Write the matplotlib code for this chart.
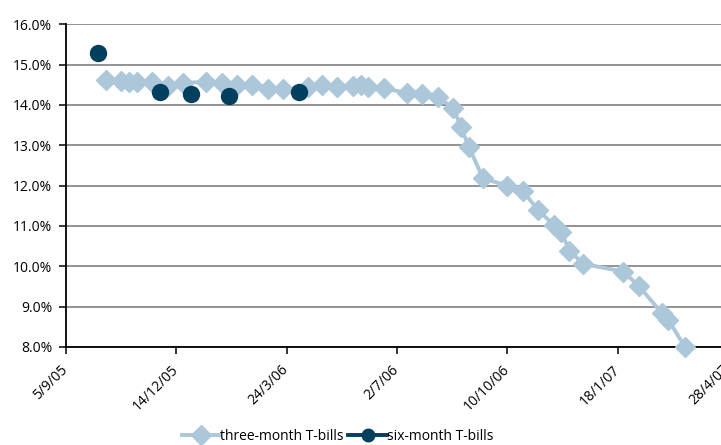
import numpy as np
import pandas as pd
import matplotlib
matplotlib.use('Agg')
from matplotlib import pyplot as plt
from matplotlib.lines import Line2D
from matplotlib.ticker import FuncFormatter
import matplotlib.transforms as mtransforms

plt.rcParams['font.family'] = ['Open Sans', 'DejaVu Sans']

# three-month T-bill yields (%)
three_month_dates = [
    '2005-10-11', '2005-10-25', '2005-11-01', '2005-11-08', '2005-11-22',
    '2005-12-06', '2005-12-20', '2006-01-10', '2006-01-24', '2006-02-07',
    '2006-02-21', '2006-03-07', '2006-03-21', '2006-04-12', '2006-04-25',
    '2006-05-09', '2006-05-23', '2006-05-30', '2006-06-06', '2006-06-20',
    '2006-07-11', '2006-07-25', '2006-08-08', '2006-08-22', '2006-08-29',
    '2006-09-05', '2006-09-18', '2006-10-10', '2006-10-24', '2006-11-07',
    '2006-11-21', '2006-11-28', '2006-12-05', '2006-12-18', '2007-01-23',
    '2007-02-06', '2007-02-27', '2007-03-05', '2007-03-20',
]
three_month = [
    14.62, 14.60, 14.56, 14.56, 14.58,
    14.47, 14.55, 14.57, 14.55, 14.50,
    14.50, 14.40, 14.39, 14.44, 14.50,
    14.44, 14.46, 14.49, 14.45, 14.41,
    14.30, 14.26, 14.19, 13.93, 13.45,
    12.97, 12.18, 12.00, 11.87, 11.39,
    11.03, 10.86, 10.39, 10.06, 9.87,
    9.52, 8.84, 8.67, 8.00,
]

# six-month T-bill yields (%)
six_month_dates = ['2005-10-04', '2005-11-29', '2005-12-27', '2006-01-31', '2006-04-04']
six_month = [15.28, 14.32, 14.27, 14.22, 14.32]

tick_dates = ['2005-09-05', '2005-12-14', '2006-03-24', '2006-07-02',
              '2006-10-10', '2007-01-18', '2007-04-28']
tick_labels = ['5/9/05', '14/12/05', '24/3/06', '2/7/06', '10/10/06', '18/1/07', '28/4/07']

light = '#abc7d9'
dark = '#003f5e'

fig = plt.figure(figsize=(7.21, 4.45), dpi=100)
# plot area runs past the right edge of the figure
ax = fig.add_axes([66 / 721, 1 - 347 / 445, 662 / 721, (347 - 24.3) / 445])

x3 = pd.to_datetime(three_month_dates)
x6 = pd.to_datetime(six_month_dates)
ax.plot(x3, three_month, color=light, lw=2.8, marker='D', ms=10.5, mec=light, mfc=light,
        zorder=3, clip_on=False)
ax.plot(x6, six_month, ls='none', marker='o', ms=11.5, color=dark, zorder=4)

ticks = pd.to_datetime(tick_dates)
ax.set_xlim(ticks[0], ticks[-1])
ax.set_xticks(ticks)
ax.set_xticklabels(tick_labels, rotation=45, ha='right', rotation_mode='anchor')
ax.set_ylim(8, 16)
ax.set_yticks(np.arange(8, 16.5, 1))
ax.yaxis.set_major_formatter(FuncFormatter(lambda v, p: f'{v:.1f}%'))

ax.grid(axis='y', color='#8a8a8a', lw=1.3)
ax.set_axisbelow(True)
for side in ['top', 'right']:
    ax.spines[side].set_visible(False)
ax.spines['left'].set_linewidth(1.3)
ax.spines['bottom'].set_linewidth(1.3)
ax.tick_params(axis='both', labelsize=10, colors='black', length=5, width=1.1, direction='out')
ax.tick_params(axis='x', pad=5)
ax.tick_params(axis='y', pad=5)

# nudge the slanted date labels left so their ends sit just under the ticks
shift = mtransforms.ScaledTranslation(-4 / 72, -1 / 72, fig.dpi_scale_trans)
for lbl in ax.get_xticklabels():
    lbl.set_transform(lbl.get_transform() + shift)

handles = [
    Line2D([], [], color=light, lw=2.8, marker='D', ms=10),
    Line2D([], [], color=dark, lw=2.8, marker='o', ms=9),
]
fig.legend(handles, ['three-month T-bills', 'six-month T-bills'], loc='center',
           bbox_to_anchor=(0.468, 1 - 436 / 445), ncol=2, frameon=False, fontsize=10,
           handlelength=2.8, handletextpad=0.0, columnspacing=0.3)

fig.savefig('out.png', dpi=100)
